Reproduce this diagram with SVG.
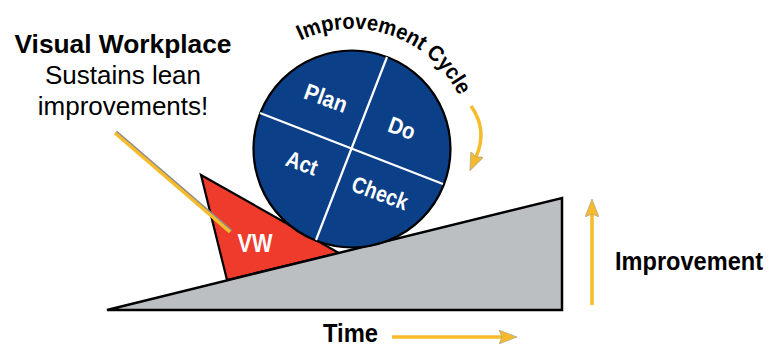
<svg xmlns="http://www.w3.org/2000/svg" width="782" height="348" viewBox="0 0 782 348">
  <style>
    .cond { font-family: "Liberation Sans", Arial, sans-serif; font-weight: bold; }
    .reg { font-family: "Liberation Sans", Arial, sans-serif; }
    .yl { stroke: #F6BB2A; stroke-width: 3.5; fill: none; }
    .sh { stroke: #8C8C8C; stroke-width: 3.5; fill: none; }
    .wl { stroke: #FFFFFF; stroke-width: 2.2; }
    .ql { fill: #FFFFFF; font-size: 23px; text-anchor: middle; }
  </style>
  <defs>
    <marker id="ah" markerUnits="userSpaceOnUse" markerWidth="18" markerHeight="14" refX="3" refY="7" orient="auto" viewBox="0 0 18 14">
      <path d="M0,0 L18,7 L0,14 L3,7 Z" fill="#F6BB2A" stroke="#9A9A9A" stroke-width="0.6"/>
    </marker>
    <path id="cyc" d="M300.5,40.5 A119,119 0 0 1 459.5,97"/>
  </defs>

  <rect width="782" height="348" fill="#FFFFFF"/>

  <g id="vw">
    <polygon points="201,175 339,253 227,280" fill="#EE3B2B" stroke="#000" stroke-width="2.2" stroke-linejoin="miter"/>
    <text class="cond" x="255" y="252" font-size="25" fill="#FFFFFF" text-anchor="middle" textLength="35" lengthAdjust="spacingAndGlyphs">VW</text>
  </g>

  <g id="ramp">
    <polygon points="107,310 562,198 562,310" fill="#BCBFC2" stroke="#000" stroke-width="2.5" stroke-linejoin="miter"/>
  </g>

  <g id="pdca">
    <circle cx="352" cy="149" r="98.5" fill="#0B3F87" stroke="#000" stroke-width="2.2"/>
    <line class="wl" x1="260" y1="113" x2="443" y2="184"/>
    <line class="wl" x1="387" y1="57" x2="316" y2="240"/>
    <text class="cond ql" transform="translate(326,98) rotate(20)" y="8" textLength="44" lengthAdjust="spacingAndGlyphs">Plan</text>
    <text class="cond ql" transform="translate(402,128) rotate(20)" y="8" textLength="27" lengthAdjust="spacingAndGlyphs">Do</text>
    <text class="cond ql" transform="translate(302,163) rotate(20)" y="8" textLength="32" lengthAdjust="spacingAndGlyphs">Act</text>
    <text class="cond ql" transform="translate(380,193) rotate(20)" y="8" textLength="58" lengthAdjust="spacingAndGlyphs">Check</text>
  </g>

  <g id="cycle-label">
    <text class="cond" font-size="22" fill="#000"><textPath href="#cyc" textLength="186" lengthAdjust="spacingAndGlyphs">Improvement Cycle</textPath></text>
  </g>

  <g id="vw-label">
    <text class="cond" x="123" y="53" font-size="26" fill="#000" text-anchor="middle" textLength="217" lengthAdjust="spacingAndGlyphs">Visual Workplace</text>
    <text class="reg" x="123" y="84" font-size="26" fill="#000" text-anchor="middle">Sustains lean</text>
    <text class="reg" x="123" y="115" font-size="26" fill="#000" text-anchor="middle">improvements!</text>
  </g>

  <g id="time-label">
    <text class="cond" x="323" y="342" font-size="25" fill="#000" textLength="55" lengthAdjust="spacingAndGlyphs">Time</text>
  </g>

  <g id="improvement-label">
    <text class="cond" x="615" y="270" font-size="26" fill="#000" textLength="148" lengthAdjust="spacingAndGlyphs">Improvement</text>
  </g>

  <g id="connectors">
    <line class="sh" x1="116" y1="132" x2="231" y2="231"/>
    <line class="yl" x1="115" y1="133" x2="230" y2="232"/>
    <path class="yl" d="M471,106 Q488,130 476,157" marker-end="url(#ah)" stroke-width="3"/>
    <line class="yl" x1="392" y1="337" x2="502" y2="337" marker-end="url(#ah)"/>
    <line class="yl" x1="592" y1="305" x2="592" y2="214" marker-end="url(#ah)"/>
  </g>
</svg>
